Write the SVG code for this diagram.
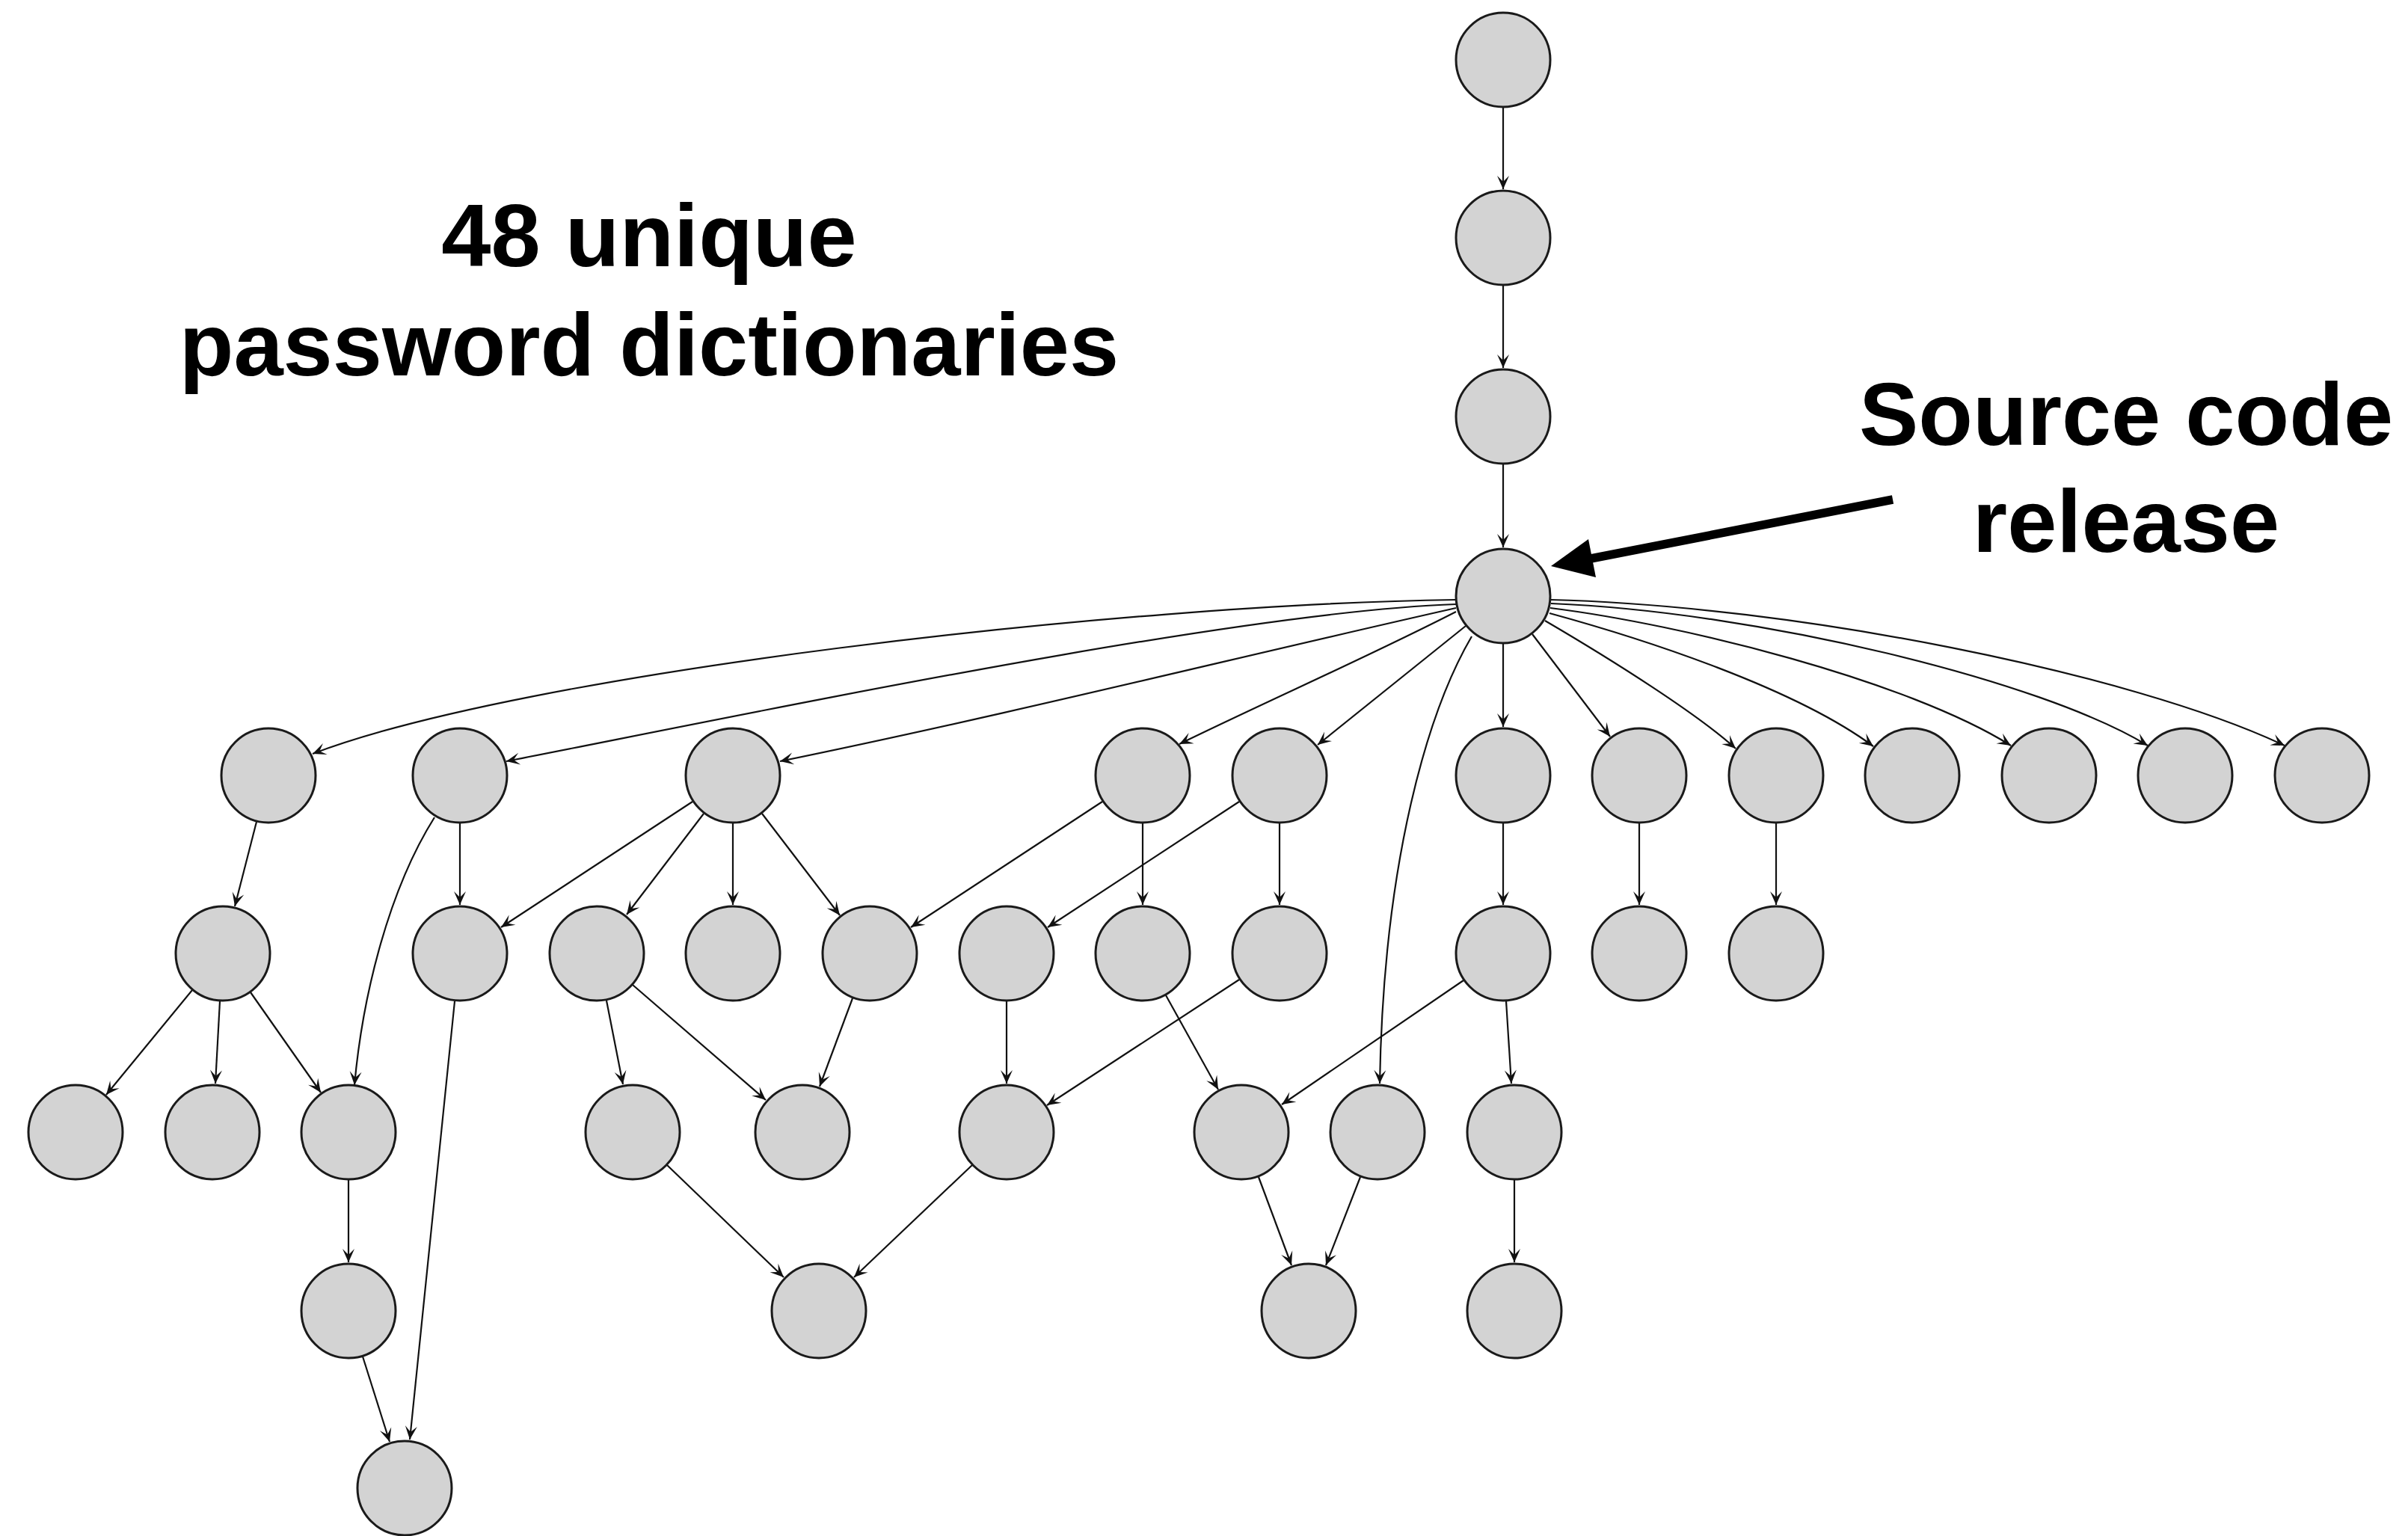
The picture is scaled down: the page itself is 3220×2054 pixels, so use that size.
<svg xmlns="http://www.w3.org/2000/svg" width="3220" height="2054" viewBox="0 0 3220 2054">
<defs>
<style>
.node{fill:#d3d3d3;stroke:#1a1a1a;stroke-width:3}
.edge{fill:none;stroke:#111;stroke-width:2.2;marker-end:url(#ah)}
.lbl{font-family:"Liberation Sans",Arial,Helvetica,sans-serif;font-weight:bold;font-size:119px;fill:#000;text-anchor:middle}
</style>
<marker id="ah" markerUnits="userSpaceOnUse" markerWidth="20" markerHeight="18" refX="19" refY="9" orient="auto" viewBox="0 0 20 18">
<path d="M1,1 L19,9 L1,17 L9,9 Z" fill="#111"/>
</marker>
</defs>
<rect width="3220" height="2054" fill="#fff"/>
<g id="connectors">
<path class="edge" d="M2010 144 L2010 253"/>
<path class="edge" d="M2010 382 L2010 492"/>
<path class="edge" d="M2010 621 L2010 732"/>
<path class="edge" d="M1947 802 C1500 808 700 900 418 1008"/>
<path class="edge" d="M1947 808 C1650 818 1000 955 677 1018"/>
<path class="edge" d="M1947 813 C1650 880 1350 955 1043 1018"/>
<path class="edge" d="M1947 818 C1830 878 1700 935 1577 995"/>
<path class="edge" d="M1960 837 L1762 996"/>
<path class="edge" d="M1968 851 C1910 950 1850 1150 1845 1449"/>
<path class="edge" d="M2010 861 L2010 972"/>
<path class="edge" d="M2049 848 L2153 985"/>
<path class="edge" d="M2066 830 C2160 885 2270 955 2321 1001"/>
<path class="edge" d="M2072 820 C2200 855 2400 920 2505 998"/>
<path class="edge" d="M2073 813 C2250 835 2550 910 2689 997"/>
<path class="edge" d="M2074 807 C2350 818 2730 910 2872 997"/>
<path class="edge" d="M2073 802 C2400 810 2850 900 3055 997"/>
<path class="edge" d="M343 1099 L314 1212"/>
<path class="edge" d="M615 1101 L615 1210"/>
<path class="edge" d="M581 1093 C520 1190 485 1330 474 1451"/>
<path class="edge" d="M926 1072 L670 1240"/>
<path class="edge" d="M941 1088 L838 1223"/>
<path class="edge" d="M980 1101 L980 1210"/>
<path class="edge" d="M1019 1088 L1123 1224"/>
<path class="edge" d="M1474 1072 L1218 1240"/>
<path class="edge" d="M1528 1101 L1528 1210"/>
<path class="edge" d="M1657 1072 L1401 1240"/>
<path class="edge" d="M1711 1101 L1711 1210"/>
<path class="edge" d="M2010 1101 L2010 1210"/>
<path class="edge" d="M2192 1101 L2192 1210"/>
<path class="edge" d="M2375 1101 L2375 1210"/>
<path class="edge" d="M257 1324 L142 1464"/>
<path class="edge" d="M294 1339 L288 1449"/>
<path class="edge" d="M335 1327 L429 1461"/>
<path class="edge" d="M608 1339 L548 1925"/>
<path class="edge" d="M811 1338 L833 1450"/>
<path class="edge" d="M846 1317 L1024 1471"/>
<path class="edge" d="M1140 1335 L1096 1453"/>
<path class="edge" d="M1346 1339 L1346 1449"/>
<path class="edge" d="M1559 1331 L1629 1457"/>
<path class="edge" d="M1657 1310 L1400 1478"/>
<path class="edge" d="M1957 1311 L1714 1477"/>
<path class="edge" d="M2014 1339 L2021 1449"/>
<path class="edge" d="M466 1578 L466 1688"/>
<path class="edge" d="M892 1558 L1048 1708"/>
<path class="edge" d="M1300 1558 L1142 1708"/>
<path class="edge" d="M1683 1574 L1727 1692"/>
<path class="edge" d="M1819 1574 L1773 1692"/>
<path class="edge" d="M2025 1578 L2025 1688"/>
<path class="edge" d="M485 1814 L521 1928"/>
</g>
<g id="n0"><circle class="node" cx="2010" cy="80" r="63"/></g>
<g id="n1"><circle class="node" cx="2010" cy="318" r="63"/></g>
<g id="n2"><circle class="node" cx="2010" cy="557" r="63"/></g>
<g id="n3"><circle class="node" cx="2010" cy="797" r="63"/></g>
<g id="l1a"><circle class="node" cx="359" cy="1037" r="63"/></g>
<g id="l1b"><circle class="node" cx="615" cy="1037" r="63"/></g>
<g id="l1c"><circle class="node" cx="980" cy="1037" r="63"/></g>
<g id="l1d"><circle class="node" cx="1528" cy="1037" r="63"/></g>
<g id="l1e"><circle class="node" cx="1711" cy="1037" r="63"/></g>
<g id="l1f"><circle class="node" cx="2010" cy="1037" r="63"/></g>
<g id="l1g"><circle class="node" cx="2192" cy="1037" r="63"/></g>
<g id="l1h"><circle class="node" cx="2375" cy="1037" r="63"/></g>
<g id="l1i"><circle class="node" cx="2557" cy="1037" r="63"/></g>
<g id="l1j"><circle class="node" cx="2740" cy="1037" r="63"/></g>
<g id="l1k"><circle class="node" cx="2922" cy="1037" r="63"/></g>
<g id="l1l"><circle class="node" cx="3105" cy="1037" r="63"/></g>
<g id="l2a"><circle class="node" cx="298" cy="1275" r="63"/></g>
<g id="l2b"><circle class="node" cx="615" cy="1275" r="63"/></g>
<g id="l2c"><circle class="node" cx="798" cy="1275" r="63"/></g>
<g id="l2d"><circle class="node" cx="980" cy="1275" r="63"/></g>
<g id="l2e"><circle class="node" cx="1163" cy="1275" r="63"/></g>
<g id="l2f"><circle class="node" cx="1346" cy="1275" r="63"/></g>
<g id="l2g"><circle class="node" cx="1528" cy="1275" r="63"/></g>
<g id="l2h"><circle class="node" cx="1711" cy="1275" r="63"/></g>
<g id="l2i"><circle class="node" cx="2010" cy="1275" r="63"/></g>
<g id="l2j"><circle class="node" cx="2192" cy="1275" r="63"/></g>
<g id="l2k"><circle class="node" cx="2375" cy="1275" r="63"/></g>
<g id="l3a"><circle class="node" cx="101" cy="1514" r="63"/></g>
<g id="l3b"><circle class="node" cx="284" cy="1514" r="63"/></g>
<g id="l3c"><circle class="node" cx="466" cy="1514" r="63"/></g>
<g id="l3d"><circle class="node" cx="846" cy="1514" r="63"/></g>
<g id="l3e"><circle class="node" cx="1073" cy="1514" r="63"/></g>
<g id="l3f"><circle class="node" cx="1346" cy="1514" r="63"/></g>
<g id="l3g"><circle class="node" cx="1660" cy="1514" r="63"/></g>
<g id="l3h"><circle class="node" cx="1842" cy="1514" r="63"/></g>
<g id="l3i"><circle class="node" cx="2025" cy="1514" r="63"/></g>
<g id="l4a"><circle class="node" cx="466" cy="1753" r="63"/></g>
<g id="l4b"><circle class="node" cx="1095" cy="1753" r="63"/></g>
<g id="l4c"><circle class="node" cx="1750" cy="1753" r="63"/></g>
<g id="l4d"><circle class="node" cx="2025" cy="1753" r="63"/></g>
<g id="l5a"><circle class="node" cx="541" cy="1990" r="63"/></g>
<g id="annotation-dictionaries">
<text class="lbl" x="868" y="356">48 unique</text>
<text class="lbl" x="868" y="502">password dictionaries</text>
</g>
<g id="annotation-source">
<text class="lbl" x="2843" y="595">Source code</text>
<text class="lbl" x="2843" y="738">release</text>
<line x1="2531" y1="668" x2="2122" y2="748" stroke="#000" stroke-width="11.5"/>
<polygon points="2074,757 2124,721 2134,772" fill="#000"/>
</g>
</svg>
